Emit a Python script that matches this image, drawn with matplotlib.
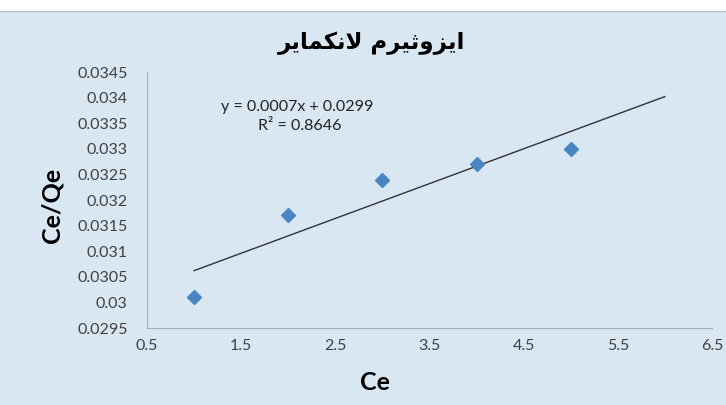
import matplotlib
matplotlib.use('Agg')
import matplotlib.pyplot as plt
import numpy as np
from matplotlib.patches import Rectangle

# data
ce = [1, 2, 3, 4, 5]
ce_qe = [0.0301, 0.0317, 0.0324, 0.0327, 0.0330]
x_ticks = [0.5, 1.5, 2.5, 3.5, 4.5, 5.5, 6.5]
y_ticks = [0.0295, 0.03, 0.0305, 0.031, 0.0315, 0.032, 0.0325, 0.033,
           0.0335, 0.034, 0.0345]
y_tick_labels = ['0.0295', '0.03', '0.0305', '0.031', '0.0315', '0.032',
                 '0.0325', '0.033', '0.0335', '0.034', '0.0345']

# title in Arabic presentation forms, visual order (matplotlib does no shaping)
title = ('\uFEAE\uFEF3\uFE8E\uFEE4\uFEDC\uFEE7\uFEFB'
         ' '
         '\uFEE1\uFEAE\uFEF4\uFE9B\uFEED\uFEB0\uFEF3\uFE8D')
eq_text = 'y = 0.0007x + 0.0299'
r2_text = 'R² = 0.8646'

plt.rcParams['font.family'] = ['Lato', 'DejaVu Sans']

fig = plt.figure(figsize=(7.26, 4.05), dpi=100)
fig.patch.set_facecolor('white')
# blue panel below the white strip at the top
fig.patches.append(Rectangle((0, 0), 1, 1 - 11 / 405, transform=fig.transFigure,
                             facecolor='#d9e7f3', edgecolor='none', zorder=-10))
fig.add_artist(plt.Line2D([0, 1], [1 - 11 / 405] * 2, transform=fig.transFigure,
                          color='#b8c2cc', lw=1))

ax = fig.add_axes([147 / 726, 77 / 405, 565 / 726, 256 / 405])
ax.set_facecolor('none')

ax.plot(ce, ce_qe, 'D', color='#4a85c3', ms=7, zorder=3)

# linear trendline, forecast forward one unit like Excel
k, b = np.polyfit(ce, ce_qe, 1)
xt = np.array([min(ce), max(ce) + 1])
ax.plot(xt, k * xt + b, color='#333333', lw=1)

ax.set_xlim(0.5, 6.5)
ax.set_ylim(0.0295, 0.0345)
ax.set_xticks(x_ticks)
ax.set_xticklabels([str(t) for t in x_ticks])
ax.set_yticks(y_ticks)
ax.set_yticklabels(y_tick_labels)
ax.tick_params(length=0, labelsize=11.5, labelcolor='#404040')
ax.tick_params(axis='y', pad=14)
ax.tick_params(axis='x', pad=8)

for s in ['top', 'right']:
    ax.spines[s].set_visible(False)
for s in ['left', 'bottom']:
    ax.spines[s].set_color('#a6adb4')

ax.text(2.10, 0.03382, eq_text, fontsize=11.5, ha='center', va='center',
        color='#222222')
ax.text(2.12, 0.03345, r2_text, fontsize=11.5, ha='center', va='center',
        color='#222222')

fig.text(52 / 726, 1 - 205 / 405, 'Ce/Qe', rotation=90, fontsize=18,
         fontweight='bold', ha='center', va='center')
fig.text(375 / 726, 1 - 382 / 405, 'Ce', fontsize=18, fontweight='bold',
         ha='center', va='center')
fig.text(372 / 726, 1 - 43 / 405, title, fontsize=16.5, fontweight='bold',
         ha='center', va='center', family=['DejaVu Sans'])

fig.savefig('out.png', dpi=100, facecolor=fig.get_facecolor())
